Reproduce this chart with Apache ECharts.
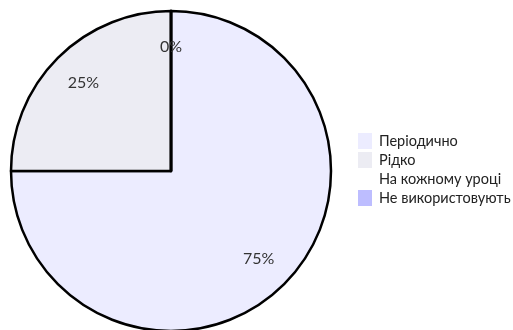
<!DOCTYPE html>
<html>
<head>
<meta charset="utf-8">
<script src="https://cdn.jsdelivr.net/npm/echarts@6/dist/echarts.min.js"></script>
<style>
  html, body { margin: 0; padding: 0; background: #fff; }
  #chart { width: 513px; height: 330px; }
</style>
</head>
<body>
<div id="chart"></div>
<script>
// slice names, values and fill colours
const names = ['Періодично', 'Рідко', 'На кожному уроці', 'Не використовують'];
const values = [75, 25, 0, 0];
const colors = ['#ECECFF', '#ECECF3', '#FFFFFF', '#BDBDFF'];

const fontFamily = 'Lato, "DejaVu Sans Condensed", sans-serif';
const total = values.reduce((a, b) => a + b, 0);

const pieData = names.map((name, i) => ({
  name,
  value: values[i],
  itemStyle: { color: colors[i] },
}));

const chart = echarts.init(document.getElementById('chart'));
chart.setOption({
  animation: false,
  legend: {
    orient: 'vertical',
    left: 358,
    top: 133,
    padding: 0,
    itemWidth: 14,
    itemHeight: 16,
    itemGap: 3,
    icon: 'rect',
    itemStyle: { borderWidth: 0 },
    textStyle: { color: '#222', fontSize: 14.5, lineHeight: 16, fontFamily, padding: [0, 0, 0, 2] },
    data: names,
  },
  series: [
    {
      type: 'pie',
      center: [171, 171],
      radius: [0, 160],
      startAngle: 90,
      clockwise: true,
      silent: true,
      label: { show: false },
      labelLine: { show: false },
      itemStyle: { borderColor: '#000', borderWidth: 2.5 },
      data: pieData,
    },
    {
      // transparent ring, used only to place the percent labels
      type: 'pie',
      center: [171, 171],
      radius: [82, 160],
      startAngle: 90,
      clockwise: true,
      silent: true,
      avoidLabelOverlap: false,
      itemStyle: { color: 'transparent', borderWidth: 0 },
      label: {
        show: true,
        position: 'inside',
        color: '#333',
        fontSize: 16,
        fontFamily,
        formatter: (p) => Math.round((p.value / total) * 100) + '%',
      },
      labelLine: { show: false },
      data: names.map((name, i) => ({ name, value: values[i] })),
    },
  ],
});
</script>
</body>
</html>
